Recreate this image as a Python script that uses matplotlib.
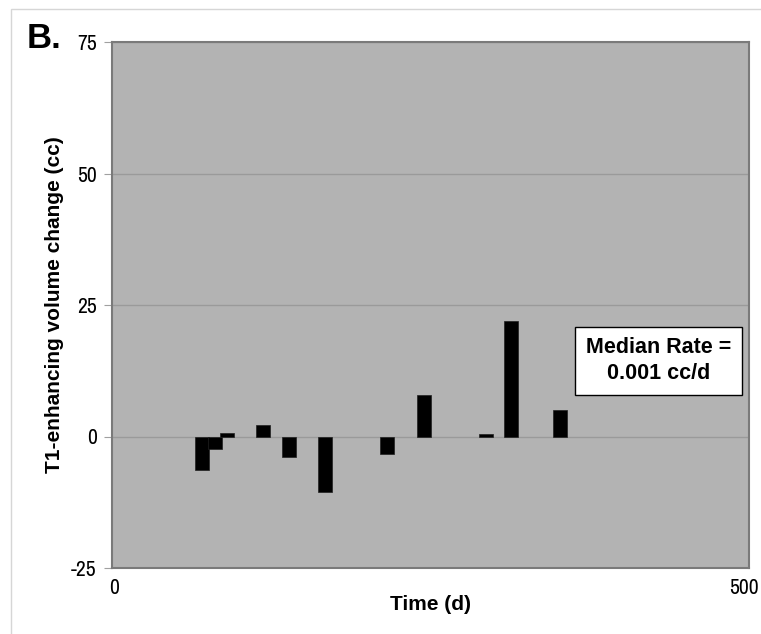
import numpy as np
import matplotlib
matplotlib.use("Agg")
import matplotlib.pyplot as plt
import matplotlib.font_manager as fm
import matplotlib.transforms as mtransforms
from matplotlib.patches import Rectangle

# volume change per interval
days = [70.9, 80.5, 90.5, 118.8, 138.9, 167.4, 216.2, 245.1, 293.7, 313.0, 351.8]
change_cc = [-6.3, -2.4, 0.7, 2.1, -3.9, -10.5, -3.4, 7.9, 0.5, 22.0, 5.1]

x_ticks = [0, 500]
y_ticks = [-25, 0, 25, 50, 75]
median_text = "Median Rate =\n0.001 cc/d"

plt.rcParams["font.family"] = ["Liberation Sans", "DejaVu Sans"]
plt.rcParams["axes.unicode_minus"] = False

# the tick numbers in the original are a narrow face; use one if the system has it
narrow = [f.name for f in fm.fontManager.ttflist if "Narrow" in f.name]
if narrow:
    tick_family, tick_size = narrow[0], 15.5
else:
    tick_family, tick_size = "Liberation Sans", 12.5

fig = plt.figure(figsize=(7.61, 6.34), dpi=100)
ax = fig.add_axes([112 / 761, 1 - 568 / 634, (749 - 112) / 761, (568 - 42) / 634])
ax.set_facecolor("#b3b3b3")

ax.bar(days, change_cc, width=11, color="black", edgecolor="#202020", linewidth=0.5, zorder=3)

ax.set_xlim(0, 500)
ax.set_ylim(-25, 75)
ax.set_xticks(x_ticks)
ax.set_yticks(y_ticks)
ax.grid(axis="y", color="#9a9a9a", linewidth=1, zorder=1)
ax.tick_params(axis="both", labelsize=tick_size, labelfontfamily=tick_family)
ax.tick_params(axis="x", length=0, pad=7)
ax.tick_params(axis="y", length=6, color="#a0a0a0", pad=5)

# nudge the two x numbers as in the original (0 a bit right, 500 kept inside)
xl = ax.get_xticklabels()
xl[0].set_transform(xl[0].get_transform() + mtransforms.ScaledTranslation(2 / 100, 0, fig.dpi_scale_trans))
xl[1].set_transform(xl[1].get_transform() + mtransforms.ScaledTranslation(-5 / 100, 0, fig.dpi_scale_trans))

for s in ax.spines.values():
    s.set_color("#7a7a7a")
    s.set_linewidth(1.5)

ax.set_xlabel("Time (d)", fontsize=15, fontweight="bold", labelpad=-2)
ax.set_ylabel("T1-enhancing volume change (cc)", fontsize=15, fontweight="bold", labelpad=5)

ax.text(429, 14.4, median_text, ha="center", va="center", fontsize=15.5,
        fontweight="bold", linespacing=1.3, zorder=4,
        bbox=dict(boxstyle="square,pad=0.5", facecolor="white", edgecolor="black", linewidth=1))

fig.text(27 / 761, 1 - 48 / 634, "B.", fontsize=25, fontweight="bold", ha="left", va="baseline")

fig.patches.append(Rectangle((11 / 761, -0.1), 2, 1.1 - 9 / 634, transform=fig.transFigure,
                             fill=False, edgecolor="#d6d6d6", linewidth=1))

fig.savefig("out.png", dpi=100)
